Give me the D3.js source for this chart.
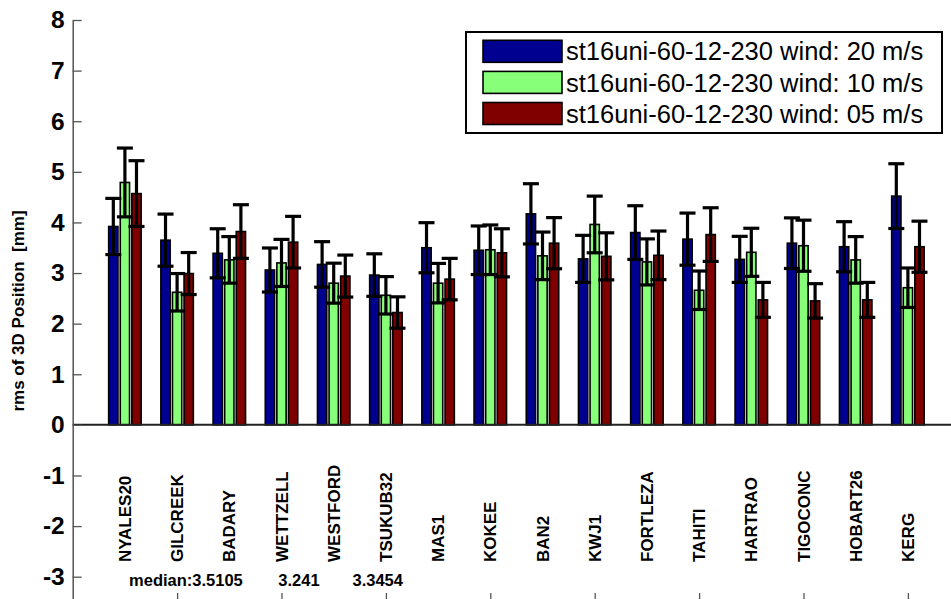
<!DOCTYPE html>
<html><head><meta charset="utf-8">
<script src="https://cdn.jsdelivr.net/npm/d3@7"></script>
<style>html,body{margin:0;padding:0;background:#fff;}svg{display:block;font-family:"Liberation Sans",Arial,sans-serif;}</style>
</head><body>
<svg id="c" width="951" height="599"></svg>
<script>
const stations = ["NYALES20","GILCREEK","BADARY","WETTZELL","WESTFORD","TSUKUB32","MAS1","KOKEE","BAN2","KWJ1","FORTLEZA","TAHITI","HARTRAO","TIGOCONC","HOBART26","KERG"];
const seriesNames = ["st16uni-60-12-230 wind: 20 m/s","st16uni-60-12-230 wind: 10 m/s","st16uni-60-12-230 wind: 05 m/s"];
const seriesColors = ["#000090","#88ff78","#800000"];
const wind20 = [3.92,3.65,3.39,3.06,3.17,2.96,3.50,3.45,4.17,3.28,3.80,3.67,3.27,3.59,3.52,4.52];
const wind20Err = [0.555,0.515,0.485,0.435,0.45,0.42,0.495,0.48,0.595,0.465,0.53,0.515,0.455,0.50,0.495,0.64];
const wind10 = [4.79,2.62,3.26,3.20,2.80,2.56,2.80,3.46,3.34,3.96,3.22,2.66,3.41,3.54,3.26,2.71];
const wind10Err = [0.68,0.37,0.46,0.465,0.395,0.37,0.39,0.49,0.47,0.56,0.455,0.38,0.475,0.505,0.46,0.39];
const wind05 = [4.57,2.99,3.82,3.61,2.94,2.22,2.88,3.40,3.59,3.33,3.35,3.76,2.47,2.45,2.47,3.52];
const wind05Err = [0.65,0.415,0.53,0.51,0.415,0.31,0.41,0.475,0.505,0.465,0.48,0.53,0.345,0.34,0.345,0.505];
const yTicks = [-3,-2,-1,0,1,2,3,4,5,6,7,8];
const xTicks = [2,4,6,8,10,12,14,16];
const medianLabels = [{t:"median:3.5105",x:1.08},{t:"3.241",x:3.94},{t:"3.3454",x:5.36}];
const yLabel = "rms of 3D Position  [mm]";

const values = [wind20, wind10, wind05];
const errs = [wind20Err, wind10Err, wind05Err];

const svg = d3.select("#c");
const x = d3.scaleLinear().domain([0,17]).range([72.7, 72.7+17*52.2]);
const y = d3.scaleLinear().domain([-3.5,8]).range([602,20]);
const off = 0.222, bw = 0.178;

// bars
values.forEach((vals,k)=>{
  svg.append("g").selectAll("rect").data(vals).join("rect")
    .attr("x",(d,i)=>x(i+1+(k-1)*off-bw/2))
    .attr("width",x(bw)-x(0))
    .attr("y",d=>y(d))
    .attr("height",d=>y(0)-y(d))
    .attr("fill",seriesColors[k])
    .attr("stroke","#000").attr("stroke-width",1.6);
});
// zero line
svg.append("line").attr("x1",x(0)).attr("x2",951).attr("y1",y(0)).attr("y2",y(0))
  .attr("stroke","#222").attr("stroke-width",2);
// error bars
const capHalf = 8;
values.forEach((vals,k)=>{
  const g = svg.append("g").attr("stroke","#000").attr("stroke-width",3.2);
  vals.forEach((v,i)=>{
    const cx = x(i+1+(k-1)*off), e = errs[k][i];
    g.append("line").attr("x1",cx).attr("x2",cx).attr("y1",y(v-e)).attr("y2",y(v+e));
    g.append("line").attr("x1",cx-capHalf).attr("x2",cx+capHalf).attr("y1",y(v+e)).attr("y2",y(v+e));
    g.append("line").attr("x1",cx-capHalf).attr("x2",cx+capHalf).attr("y1",y(v-e)).attr("y2",y(v-e));
  });
});
// y axis
const ya = svg.append("g").attr("transform",`translate(${x(0)},0)`)
  .call(d3.axisLeft(y).tickValues(yTicks).tickSizeInner(-9).tickSizeOuter(0).tickPadding(8).tickFormat(d=>String(d)));
ya.select(".domain").attr("stroke","#555").attr("stroke-width",1.5);
ya.selectAll(".tick line").attr("stroke","#555").attr("stroke-width",1.3);
ya.selectAll(".tick text").attr("font-size",24.5).attr("font-weight","bold").attr("fill","#000")
  .attr("font-family","Liberation Sans, Arial, sans-serif");
// x axis (bottom, ticks only)
const xa = svg.append("g").attr("transform",`translate(0,${y(-3.5)})`)
  .call(d3.axisBottom(x).tickValues(xTicks).tickSizeInner(-9).tickSizeOuter(0).tickFormat(""));
xa.select(".domain").attr("stroke","#555");
xa.selectAll(".tick line").attr("stroke","#555").attr("stroke-width",1.3);
// y label
svg.append("text").attr("transform",`translate(18,${(y(-3.5)+y(8))/2}) rotate(-90)`)
  .attr("text-anchor","middle").attr("dy","0.36em").attr("font-size",17).attr("font-weight","bold")
  .attr("xml:space","preserve").style("white-space","pre").text(yLabel);
// station labels
svg.append("g").selectAll("text").data(stations).join("text")
  .attr("transform",(d,i)=>`translate(${x(i+1)},562) rotate(-90)`)
  .attr("dy","0.36em").attr("font-size",17).attr("font-weight","bold").text(d=>d);
// median labels
svg.append("g").selectAll("text").data(medianLabels).join("text")
  .attr("x",d=>x(d.x)).attr("y",586).attr("font-size",16.5).attr("font-weight","bold").text(d=>d.t);
// legend
const lg = svg.append("g");
lg.append("rect").attr("x",466).attr("y",32).attr("width",476).attr("height",101)
  .attr("fill","#fff").attr("stroke","#000").attr("stroke-width",2);
seriesNames.forEach((n,k)=>{
  const cy = 51.3 + k*31.1;
  lg.append("rect").attr("x",483).attr("y",cy-11).attr("width",79).attr("height",22)
    .attr("fill",seriesColors[k]).attr("stroke","#000").attr("stroke-width",1.6);
  lg.append("text").attr("x",566).attr("y",cy).attr("dy","0.36em").attr("font-size",25.5).text(n);
});
</script>
</body></html>
